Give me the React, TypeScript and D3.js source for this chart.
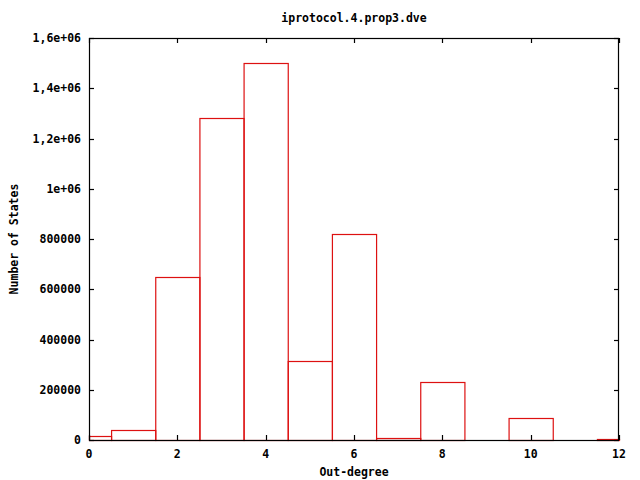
import { useEffect, useRef } from 'react';
import * as d3 from 'd3';

const title = 'iprotocol.4.prop3.dve';
const xLabel = 'Out-degree';
const yLabel = 'Number of States';

// out-degree bins and number of states per bin
const degrees = [0, 1, 2, 3, 4, 5, 6, 7, 8, 9, 10, 11, 12];
const counts = [15000, 38000, 648000, 1280000, 1500000, 313000, 818000, 7000, 230000, 0, 86000, 0, 5000];

const xTicks = [0, 2, 4, 6, 8, 10, 12];
const yTicks = [0, 200000, 400000, 600000, 800000, 1000000, 1200000, 1400000, 1600000];
const yTickLabels = ['0', '200000', '400000', '600000', '800000', '1e+06', '1,2e+06', '1,4e+06', '1,6e+06'];

const App = () => {
  const svgRef = useRef<SVGSVGElement>(null);

  useEffect(() => {
    const width = 640;
    const height = 480;
    const margin = { top: 38, right: 21, bottom: 40, left: 89 };
    const font = '"DejaVu Sans Mono", "Liberation Mono", monospace';

    d3.select(svgRef.current).selectAll('*').remove();

    const svg = d3.select(svgRef.current)
      .attr('width', width)
      .attr('height', height);

    svg.append('rect').attr('width', width).attr('height', height).attr('fill', '#fff');

    const x = d3.scaleLinear()
      .domain([0, 12])
      .range([margin.left, width - margin.right]);

    const y = d3.scaleLinear()
      .domain([0, 1600000])
      .range([height - margin.bottom, margin.top]);

    const data = degrees.map((d, i) => ({ d, v: counts[i] })).filter(e => e.v > 0);

    // Boxes (width 1, clipped to x range)
    svg.append('g')
      .selectAll('rect')
      .data(data)
      .join('rect')
      .attr('x', e => x(Math.max(0, e.d - 0.5)) + 0.5)
      .attr('y', e => Math.round(y(e.v)) + 0.5)
      .attr('width', e => x(Math.min(12, e.d + 0.5)) - x(Math.max(0, e.d - 0.5)))
      .attr('height', e => Math.round(y(0)) - Math.round(y(e.v)))
      .attr('fill', 'none')
      .attr('stroke', '#dd1111')
      .attr('stroke-width', 1.2);

    const tickLen = 5;
    const ticks = svg.append('g').attr('stroke', '#000').attr('stroke-width', 1.2);

    // X ticks, bottom and mirrored on top
    xTicks.forEach(t => {
      const px = Math.round(x(t)) + 0.5;
      ticks.append('line').attr('x1', px).attr('x2', px).attr('y1', y(0)).attr('y2', y(0) - tickLen);
      ticks.append('line').attr('x1', px).attr('x2', px).attr('y1', margin.top).attr('y2', margin.top + tickLen);
    });

    // Y ticks, left and mirrored on right
    yTicks.forEach(t => {
      const py = Math.round(y(t)) + 0.5;
      ticks.append('line').attr('x1', margin.left).attr('x2', margin.left + tickLen).attr('y1', py).attr('y2', py);
      ticks.append('line').attr('x1', width - margin.right).attr('x2', width - margin.right - tickLen).attr('y1', py).attr('y2', py);
    });

    // Frame
    svg.append('rect')
      .attr('x', margin.left + 0.5)
      .attr('y', margin.top + 0.5)
      .attr('width', width - margin.left - margin.right - 1)
      .attr('height', height - margin.top - margin.bottom)
      .attr('fill', 'none')
      .attr('stroke', '#000')
      .attr('stroke-width', 1.2);

    const text = svg.append('g')
      .style('font-family', font)
      .style('font-size', '11.5px')
      .style('font-weight', 'bold')
      .attr('fill', '#000');

    text.selectAll('.xt')
      .data(xTicks)
      .join('text')
      .attr('class', 'xt')
      .attr('x', t => x(t))
      .attr('y', 458)
      .attr('text-anchor', 'middle')
      .text(t => String(t));

    text.selectAll('.yt')
      .data(yTicks)
      .join('text')
      .attr('class', 'yt')
      .attr('x', 81)
      .attr('y', t => y(t) + 4)
      .attr('text-anchor', 'end')
      .text((_, i) => yTickLabels[i]);

    text.append('text')
      .attr('x', (margin.left + width - margin.right) / 2)
      .attr('y', 22)
      .attr('text-anchor', 'middle')
      .text(title);

    text.append('text')
      .attr('x', (margin.left + width - margin.right) / 2)
      .attr('y', 476)
      .attr('text-anchor', 'middle')
      .text(xLabel);

    text.append('text')
      .attr('transform', `translate(18,${(margin.top + height - margin.bottom) / 2}) rotate(-90)`)
      .attr('text-anchor', 'middle')
      .text(yLabel);
  }, []);

  return (
    <svg ref={svgRef} style={{ position: 'absolute', left: 0, top: 0, display: 'block' }} />
  );
};

export default App;
